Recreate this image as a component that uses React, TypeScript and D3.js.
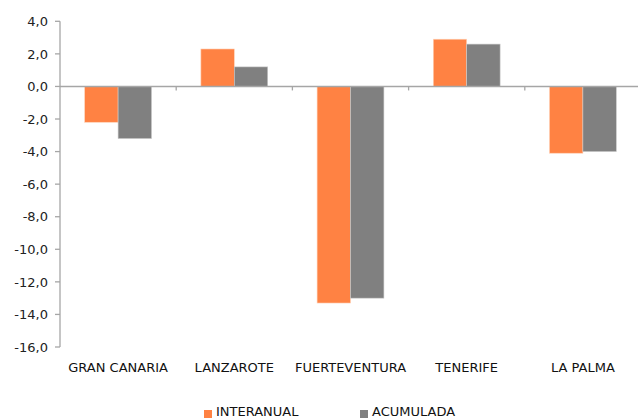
import React from 'react';
import * as d3 from 'd3';

const islands = ['GRAN CANARIA', 'LANZAROTE', 'FUERTEVENTURA', 'TENERIFE', 'LA PALMA'];
const interanual = [-2.2, 2.3, -13.3, 2.9, -4.1];
const acumulada = [-3.2, 1.2, -13.0, 2.6, -4.0];
const yTicks = [4, 2, 0, -2, -4, -6, -8, -10, -12, -14, -16];
const seriesNames = ['INTERANUAL', 'ACUMULADA'];
const seriesColors = ['#FF8243', '#808080'];

const width = 638;
const height = 419;
const font = '"DejaVu Sans", Verdana, sans-serif';
const axisColor = '#A6A6A6';

const App: React.FC = () => {
  const x = d3.scaleBand<string>()
    .domain(islands)
    .range([60, 641])
    .paddingInner(0.425)
    .paddingOuter(0.2125);

  const xs = d3.scaleBand<string>()
    .domain(seriesNames)
    .range([0, x.bandwidth()]);

  const y = d3.scaleLinear().domain([-16, 4]).range([347, 21.3]);
  const fmt = (v: number) => d3.format('.1f')(v).replace('.', ',').replace('−', '-');

  const series = [interanual, acumulada];
  const step = x.step();
  const x0 = x.range()[0];

  return (
    <svg width={width} height={height} style={{ position: 'absolute', left: 0, top: 0 }} fontFamily={font}>
      <rect width={width} height={height} fill="#fff" />

      {/* bars */}
      {series.map((vals, s) =>
        islands.map((isl, i) => {
          const v = vals[i];
          const top = y(Math.max(0, v));
          const h = Math.abs(y(v) - y(0));
          return (
            <rect
              key={`${s}-${i}`}
              x={(x(isl) ?? 0) + (xs(seriesNames[s]) ?? 0)}
              y={top}
              width={xs.bandwidth()}
              height={h}
              fill={seriesColors[s]}
              stroke={s === 0 ? '#FFD2B8' : '#C8C8C8'}
              strokeWidth={0.6}
            />
          );
        })
      )}

      {/* y axis */}
      <line x1={60} x2={60} y1={y(4)} y2={y(-16)} stroke={axisColor} strokeWidth={1.3} />
      {yTicks.map(t => (
        <g key={t}>
          <line x1={55} x2={60} y1={y(t)} y2={y(t)} stroke={axisColor} strokeWidth={1.3} />
          <text x={48} y={y(t)} dy="0.36em" textAnchor="end" fontSize={13} fill="#222">
            {fmt(t)}
          </text>
        </g>
      ))}

      {/* zero line with category ticks */}
      <line x1={60} x2={width} y1={y(0)} y2={y(0)} stroke={axisColor} strokeWidth={1.5} />
      {d3.range(1, islands.length).map(k => (
        <line key={k} x1={x0 + step * k} x2={x0 + step * k} y1={y(0)} y2={y(0) + 4} stroke={axisColor} strokeWidth={1.3} />
      ))}

      {/* category labels */}
      {islands.map(isl => (
        <text key={isl} x={(x(isl) ?? 0) + x.bandwidth() / 2} y={371.5} textAnchor="middle" fontSize={13} fill="#111">
          {isl}
        </text>
      ))}

      {/* legend */}
      {seriesNames.map((n, s) => {
        const lx = s === 0 ? 204 : 360;
        return (
          <g key={n}>
            <rect x={lx} y={410} width={8} height={8} fill={seriesColors[s]} />
            <text x={lx + 12} y={416} fontSize={13} fill="#111">{n}</text>
          </g>
        );
      })}
    </svg>
  );
};

export default App;
